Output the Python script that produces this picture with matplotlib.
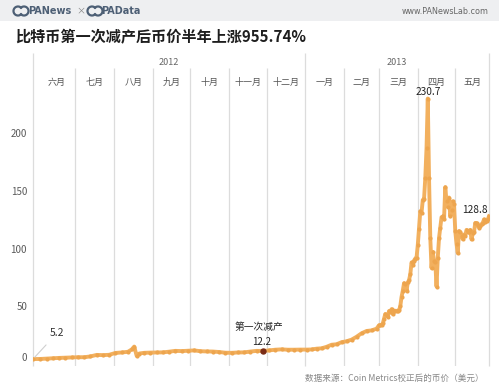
import matplotlib
matplotlib.use('Agg')
import matplotlib.pyplot as plt
import matplotlib.dates as mdates
from matplotlib.patches import Rectangle, Arc
from matplotlib.transforms import blended_transform_factory
from datetime import date, timedelta

plt.rcParams['font.family'] = ['Noto Sans CJK SC', 'DejaVu Sans']

# ---------------- data ----------------
title = "比特币第一次减产后币价半年上涨955.74%"
source = "数据来源：Coin Metrics校正后的币价（美元）"
month_labels = ["六月", "七月", "八月", "九月", "十月", "十一月", "十二月",
                "一月", "二月", "三月", "四月", "五月"]
year_labels = ["2012", "2013"]
y_ticks = [0, 50, 100, 150, 200]

sparse_dates = [
    "2012-05-28", "2012-06-03", "2012-06-08", "2012-06-13", "2012-06-18", "2012-06-23",
    "2012-06-28", "2012-07-03", "2012-07-08", "2012-07-13", "2012-07-18", "2012-07-23",
    "2012-07-28", "2012-08-02", "2012-08-07", "2012-08-12", "2012-08-15", "2012-08-17",
    "2012-08-19", "2012-08-21", "2012-08-25", "2012-08-30", "2012-09-04", "2012-09-09",
    "2012-09-14", "2012-09-19", "2012-09-24", "2012-09-29", "2012-10-04", "2012-10-09",
    "2012-10-14", "2012-10-19", "2012-10-24", "2012-10-29", "2012-11-03", "2012-11-08",
    "2012-11-13", "2012-11-18", "2012-11-23", "2012-11-28", "2012-12-03", "2012-12-08",
    "2012-12-13", "2012-12-18", "2012-12-23", "2012-12-28", "2013-01-02", "2013-01-06",
    "2013-01-10", "2013-01-14", "2013-01-18", "2013-01-22", "2013-01-26", "2013-01-30",
    "2013-02-03", "2013-02-07", "2013-02-11", "2013-02-15", "2013-02-19", "2013-02-23",
    "2013-02-27",
]
sparse_prices = [
    5.2, 5.3, 5.6, 5.9, 6.2, 6.4,
    6.6, 6.8, 6.8, 7.5, 8.8, 8.6,
    8.9, 10.5, 10.9, 11.5, 13.5, 16.0,
    8.0, 10.0, 10.6, 10.8, 10.9, 11.0,
    11.6, 12.3, 12.1, 12.4, 12.7, 12.0,
    11.8, 11.7, 11.3, 10.7, 10.6, 10.9,
    11.0, 11.7, 12.3, 12.2, 12.7, 13.3,
    13.6, 13.3, 13.3, 13.4, 13.4, 13.5,
    14.2, 14.5, 15.8, 17.6, 18.0, 19.8,
    20.6, 22.0, 24.5, 27.5, 29.5, 30.0,
    31.5,
]

# daily values from 2013-03-01 to 2013-05-28
daily_start = "2013-03-01"
daily_prices = [
    34.5, 34.3, 34.5, 36.2, 40.3, 44.2, 43.3, 42.0, 46.8, 46.0,
    48.4, 44.2, 46.9, 47.0, 46.9, 47.0, 47.4, 51.0, 59.0, 64.4,
    70.9, 69.9, 64.4, 71.5, 73.6, 78.5, 88.9, 86.2, 90.5, 92.2,
    93.0,
    104.0, 118.0, 133.0, 132.0, 143.0, 143.5, 162.0, 188.0, 230.7, 162.0,
    110.0, 84.0, 98.0, 90.0, 89.0, 68.0, 93.0, 110.0, 119.0, 128.0,
    128.7, 126.0, 154.0, 141.7, 137.0, 145.0, 128.7, 134.0, 141.7, 139.0,
    116.0, 105.0, 97.0, 116.0, 115.0, 112.0, 109.0, 113.0, 112.0, 117.0,
    115.0, 115.0, 117.0, 108.7, 114.0, 115.0, 123.0, 123.0, 121.0, 119.0,
    120.0, 122.0, 123.0, 126.0, 124.0, 125.0, 126.0, 128.8,
]

halving_date = "2012-11-28"
halving_price = 12.2
halving_label = "第一次减产"

# ---------------- build ----------------
def d(s):
    y, m, dd = map(int, s.split("-"))
    return date(y, m, dd)

d0 = d(daily_start)
dates = [d(s) for s in sparse_dates] + [d0 + timedelta(days=i) for i in range(len(daily_prices))]
prices = sparse_prices + daily_prices

W, H = 499, 387
fig = plt.figure(figsize=(W / 100, H / 100), dpi=100)
fig.patch.set_facecolor("white")

def fx(px):
    return px / W

def fy(py):
    return 1 - py / H

# header band
fig.patches.append(Rectangle((0, fy(21)), 1, 21 / H, transform=fig.transFigure,
                             facecolor="#EEEFF1", edgecolor="none", zorder=0))
logo_col = "#4D5F75"
for cx in (18, 92):
    fig.patches.append(Arc((fx(cx), fy(11)), 9 / W, 9 / H, theta1=40, theta2=320,
                           transform=fig.transFigure, color=logo_col, lw=1.6))
    fig.patches.append(Arc((fx(cx + 6), fy(11)), 9 / W, 9 / H, theta1=220, theta2=140,
                           transform=fig.transFigure, color=logo_col, lw=1.6))
fig.text(fx(28), fy(11), "PANews", fontsize=7, fontweight="bold", color=logo_col,
         ha="left", va="center", family=["DejaVu Sans"])
fig.text(fx(81), fy(11), "×", fontsize=6.5, color="#888888", ha="center", va="center")
fig.text(fx(101), fy(11), "PAData", fontsize=7, fontweight="bold", color=logo_col,
         ha="left", va="center", family=["DejaVu Sans"])
fig.text(fx(489), fy(11), "www.PANewsLab.com", fontsize=5.8, color="#666666",
         ha="right", va="center", family=["DejaVu Sans"])

# title
fig.text(fx(15), fy(37), title, fontsize=10.9, fontweight="bold", color="#1E1E1E",
         ha="left", va="center")

# axes
ax = fig.add_axes([fx(33), fy(366), fx(489) - fx(33), fy(53) - fy(366)])
x_start, x_end = date(2012, 5, 28), date(2013, 5, 28)
ax.set_xlim(mdates.date2num(x_start), mdates.date2num(x_end))
ax.set_ylim(-0.8, 270.1)
for s in ax.spines.values():
    s.set_visible(False)
ax.set_xticks([])
ax.set_yticks([])
ax.patch.set_alpha(0)

trans = blended_transform_factory(ax.transData, ax.transAxes)

# month starts
month_starts = [date(2012, m, 1) for m in range(6, 13)] + [date(2013, m, 1) for m in range(1, 6)]
year_lines = [x_start, date(2013, 1, 1), x_end]
for ms in month_starts:
    if ms in year_lines or ms == date(2012, 6, 1):
        continue
    ax.plot([mdates.date2num(ms)] * 2, [0, 0.952], transform=trans, color="#DCDCDC",
            lw=0.9, zorder=1, solid_capstyle="butt")
for yl in year_lines:
    ax.plot([mdates.date2num(yl)] * 2, [0, 1], transform=trans, color="#DCDCDC",
            lw=0.9, zorder=1, solid_capstyle="butt", clip_on=False)

# month labels
bounds = month_starts + [x_end]
for i, lab in enumerate(month_labels):
    a = mdates.date2num(bounds[i])
    b = mdates.date2num(bounds[i + 1])
    ax.text((a + b) / 2, 0.905, lab, transform=trans, fontsize=6.5, color="#555555",
            ha="center", va="center")
# year labels
yb = [x_start, date(2013, 1, 1), x_end]
for i, lab in enumerate(year_labels):
    a = mdates.date2num(yb[i])
    b = mdates.date2num(yb[i + 1])
    ax.text((a + b) / 2, 0.97, lab, transform=trans, fontsize=6.5, color="#666666",
            ha="center", va="center")

# y labels
ytrans = blended_transform_factory(ax.transAxes, ax.transData)
for t in y_ticks:
    ypos = t if t != 0 else 6
    ax.text(-0.013, ypos, str(t), transform=ytrans, fontsize=7, color="#5A5A5A",
            ha="right", va="center")

# series
xn = mdates.date2num(dates)
ax.plot(xn, prices, color="#F2B05E", lw=2.8, marker="o", ms=3.0, mew=0,
        mfc="#EDA54E", solid_joinstyle="round", zorder=3)

# halving
hx = mdates.date2num(d(halving_date))
ax.plot([hx], [halving_price], "o", color="#7A2C16", ms=3.6, zorder=5)
ax.annotate(f"{halving_price}", xy=(hx, halving_price), xytext=(-0.7, 6.5),
            textcoords="offset points", fontsize=7, color="#222222", ha="center",
            va="center", zorder=6)
ax.annotate(halving_label, xy=(hx, halving_price), xytext=(-3, 17),
            textcoords="offset points", fontsize=7, color="#222222", ha="center",
            va="center", zorder=6)

# first value
ax.annotate(f"{prices[0]}", xy=(xn[0], prices[0]), xytext=(17.3, 18.7),
            textcoords="offset points", fontsize=7.5, color="#333333", ha="center",
            va="center", zorder=6,
            arrowprops=dict(arrowstyle="-", color="#CFCFCF", lw=0.8, shrinkA=4, shrinkB=2))

# peak
ip = prices.index(max(prices))
ax.annotate(f"{prices[ip]}", xy=(xn[ip], prices[ip]), xytext=(0.5, 4.5),
            textcoords="offset points", fontsize=7.3, color="#222222", ha="center",
            va="center", zorder=6)

# last
ax.annotate(f"{prices[-1]}", xy=(xn[-1], prices[-1]), xytext=(-1, 4.5),
            textcoords="offset points", fontsize=7.3, color="#222222", ha="right",
            va="center", zorder=6)

# source
fig.text(fx(484), fy(378), source, fontsize=6.2, color="#888888", ha="right", va="center")

fig.savefig("out.png", dpi=100, facecolor="white")
